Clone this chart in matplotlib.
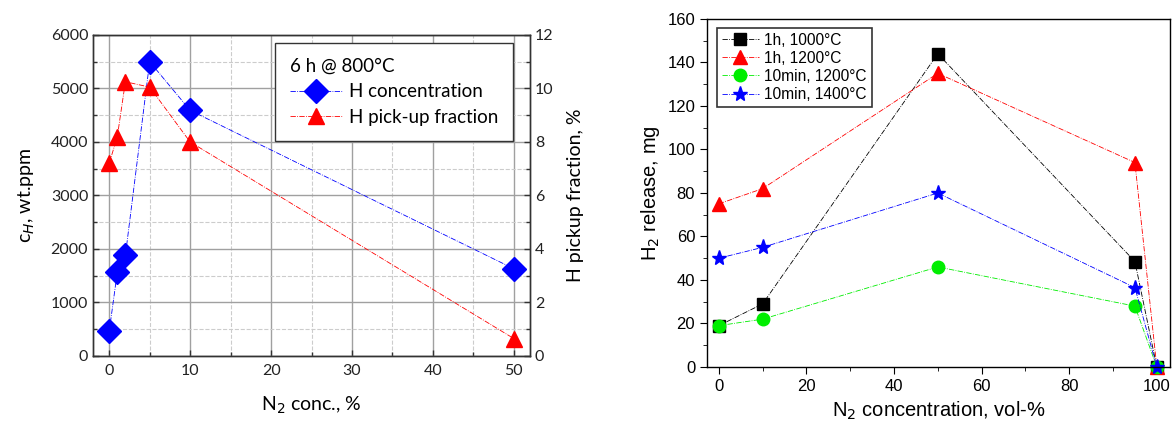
import matplotlib.pyplot as plt
from matplotlib.ticker import MultipleLocator
from matplotlib.lines import Line2D

# left panel: 6 h @ 800°C
n2_left = [0, 1, 2, 5, 10, 50]
h_conc = [460, 1570, 1880, 5500, 4590, 1630]
pickup = [7.2, 8.2, 10.25, 10.05, 8.0, 0.65]

# right panel: H2 release
n2_right = [0, 10, 50, 95, 100]
rel_1h_1000 = [19, 29, 144, 48.5, 0]
rel_1h_1200 = [75, 82, 135, 94, 0]
rel_10m_1200 = [19, 22, 46, 28, 0]
rel_10m_1400 = [50, 55, 80, 36.5, 0]

fig = plt.figure(figsize=(11.73, 4.23), dpi=100)

# ---- left chart ----
lf = ['Lato', 'DejaVu Sans']
ax = fig.add_axes([0.0793, 0.1584, 0.3726, 0.759])
ax2 = ax.twinx()

ax.grid(True, which='major', color='#a0a0a0', lw=1.0, ls='-')
ax.grid(True, which='minor', color='#cccccc', lw=0.8, ls='--')
ax.xaxis.set_major_locator(MultipleLocator(10))
ax.xaxis.set_minor_locator(MultipleLocator(5))
ax.yaxis.set_major_locator(MultipleLocator(1000))
ax.yaxis.set_minor_locator(MultipleLocator(500))
ax2.yaxis.set_major_locator(MultipleLocator(2))
ax2.yaxis.set_minor_locator(MultipleLocator(1))
ax.set_xlim(-2, 52)
ax.set_ylim(0, 6000)
ax2.set_ylim(0, 12)

ax.plot(n2_left, h_conc, color='blue', lw=0.6, ls='-.', marker='D', ms=12,
        mec='blue')
ax2.plot(n2_left, pickup, color='red', lw=0.6, ls='-.', marker='^', ms=12,
         mec='red')

for a in (ax, ax2):
    a.tick_params(which='major', direction='in', length=4, width=1,
                  labelsize=11.5, labelcolor='#222222', color='#333333')
    a.tick_params(which='minor', direction='in', length=3, width=1,
                  color='#333333')
    for s in a.spines.values():
        s.set_color('#333333')
        s.set_linewidth(1.0)
    for lab in a.get_xticklabels() + a.get_yticklabels():
        lab.set_family(lf)
ax.tick_params(axis='x', which='major', pad=6)
ax.set_xlabel('N$_2$ conc., %', fontsize=14, family=lf, labelpad=12)
ax.set_ylabel('c$_H$, wt.ppm', fontsize=14, family=lf, labelpad=10)
ax2.set_ylabel('H pickup fraction, %', fontsize=14, family=lf, labelpad=10)

handles = [Line2D([], [], color='blue', lw=0.6, ls='-.', marker='D', ms=12),
           Line2D([], [], color='red', lw=0.6, ls='-.', marker='^', ms=12)]
leg = ax2.legend(handles, ['H concentration', 'H pick-up fraction'],
                 title='6 h @ 800°C', loc='upper right',
                 bbox_to_anchor=(0.961, 0.975), borderaxespad=0,
                 fancybox=False, framealpha=1,
                 edgecolor='#333333', handlelength=2.8, borderpad=0.8,
                 labelspacing=0.45, handletextpad=0.35,
                 prop={'family': lf, 'size': 13.5},
                 title_fontproperties={'family': lf, 'size': 13.5})
leg._legend_box.align = 'left'
leg.get_frame().set_linewidth(1.0)

# ---- right chart ----
rf = ['Liberation Sans', 'DejaVu Sans']
bx = fig.add_axes([0.6027, 0.1324, 0.3947, 0.8227])
series = [
    (rel_1h_1000, 'black', 's', 8, '1h, 1000°C'),
    (rel_1h_1200, 'red', '^', 10, '1h, 1200°C'),
    (rel_10m_1200, '#00ee00', 'o', 9, '10min, 1200°C'),
    (rel_10m_1400, 'blue', '*', 11, '10min, 1400°C'),
]
for vals, c, m, ms, lab in series:
    bx.plot(n2_right, vals, color=c, lw=0.6, ls='-.', marker=m, ms=ms,
            mec=c, label=lab, clip_on=False)
bx.set_xlim(-2.7, 103)
bx.set_ylim(0, 160)
bx.xaxis.set_major_locator(MultipleLocator(20))
bx.xaxis.set_minor_locator(MultipleLocator(10))
bx.yaxis.set_major_locator(MultipleLocator(20))
bx.yaxis.set_minor_locator(MultipleLocator(10))
bx.tick_params(which='major', direction='out', length=5, labelsize=12)
bx.tick_params(which='minor', direction='out', length=3)
bx.tick_params(top=False, right=False)
for lab in bx.get_xticklabels() + bx.get_yticklabels():
    lab.set_family(rf)
for s in bx.spines.values():
    s.set_linewidth(1.0)
bx.set_xlabel('N$_2$ concentration, vol-%', fontsize=14.5, family=rf)
bx.set_ylabel('H$_2$ release, mg', fontsize=14.5, family=rf)
leg2 = bx.legend(loc='upper left', bbox_to_anchor=(0.0216, 0.974),
                 borderaxespad=0, fancybox=False, framealpha=1,
                 edgecolor='#333333', handlelength=2.4, borderpad=0.3,
                 labelspacing=0.2, handletextpad=0.35,
                 prop={'family': rf, 'size': 11.2})
leg2.get_frame().set_linewidth(1.2)

fig.savefig('out.png', dpi=100)
